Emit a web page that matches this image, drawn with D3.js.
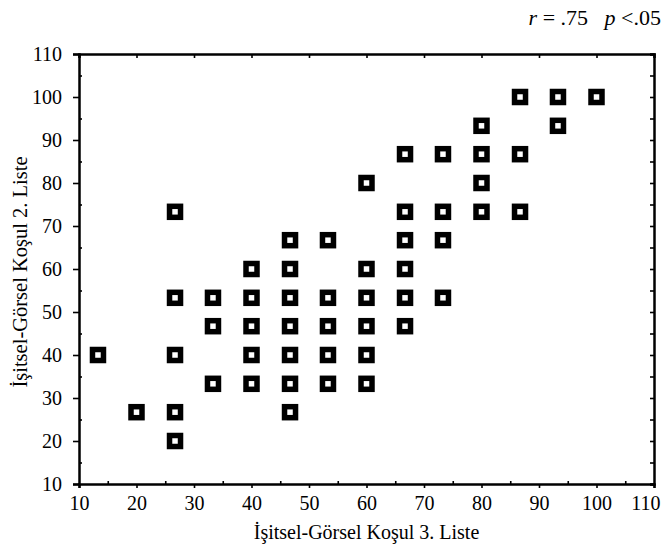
<!DOCTYPE html>
<html><head><meta charset="utf-8">
<script src="https://cdn.jsdelivr.net/npm/d3@7"></script>
<style>body{margin:0;background:#fff}</style>
</head><body>
<svg id="c" width="666" height="550"></svg>
<script>
// Data: İşitsel-Görsel Koşul 3. Liste (x) vs 2. Liste (y)
const xValues = [13.3, 20, 26.7,26.7,26.7,26.7,26.7, 33.3,33.3,33.3, 40,40,40,40,40,
  46.7,46.7,46.7,46.7,46.7,46.7,46.7, 53.3,53.3,53.3,53.3,53.3, 60,60,60,60,60,60,
  66.7,66.7,66.7,66.7,66.7,66.7, 73.3,73.3,73.3,73.3, 80,80,80,80, 86.7,86.7,86.7, 93.3,93.3, 100];
const yValues = [40, 26.7, 73.3,53.3,40,26.7,20, 53.3,46.7,33.3, 60,53.3,46.7,40,33.3,
  66.7,60,53.3,46.7,40,33.3,26.7, 66.7,53.3,46.7,40,33.3, 80,60,53.3,46.7,40,33.3,
  86.7,73.3,66.7,60,53.3,46.7, 86.7,73.3,66.7,53.3, 93.3,86.7,80,73.3, 100,86.7,73.3, 100,93.3, 100];
const tickValues = [10,20,30,40,50,60,70,80,90,100,110];
const minorTicks = [15,25,35,45,55,65,75,85,95,105];
const xTitle = "İşitsel-Görsel Koşul 3. Liste";
const yTitle = "İşitsel-Görsel Koşul 2. Liste";

const svg = d3.select("#c");
const L = 79, R = 654, T = 54, B = 484;
const x = d3.scaleLinear().domain([10,110]).range([L,R]);
const y = d3.scaleLinear().domain([10,110]).range([B,T]);
const font = "Liberation Serif, Times New Roman, serif";

function styleAxis(g){
  g.selectAll("path").attr("stroke","#000").attr("stroke-width",2.5);
  g.selectAll("line").attr("stroke","#000").attr("stroke-width",1.6);
  g.selectAll("text").attr("font-family",font).attr("font-size",20).attr("fill","#000");
}
const gx = svg.append("g").attr("transform",`translate(0,${B})`).call(d3.axisBottom(x).tickValues(tickValues).tickSize(4).tickPadding(8).tickFormat(d3.format("d")));
styleAxis(gx);
gx.selectAll(".tick text").filter(d=>d===110).attr("text-anchor","end").attr("x",6);
const gy = svg.append("g").attr("transform",`translate(${L},0)`).call(d3.axisLeft(y).tickValues(tickValues).tickSize(6).tickPadding(11).tickFormat(d3.format("d")));
styleAxis(gy);
const gt = svg.append("g").attr("transform",`translate(0,${T})`).call(d3.axisTop(x).tickValues(tickValues).tickSize(-4).tickFormat(""));
styleAxis(gt);
const gr = svg.append("g").attr("transform",`translate(${R},0)`).call(d3.axisRight(y).tickValues(tickValues.concat(minorTicks)).tickSize(-4).tickFormat(""));
styleAxis(gr);
const gym = svg.append("g").attr("transform",`translate(${L},0)`).call(d3.axisLeft(y).tickValues(minorTicks).tickSize(-3).tickFormat(""));
styleAxis(gym); gym.select("path").remove();
const gxm = svg.append("g").attr("transform",`translate(0,${B})`).call(d3.axisBottom(x).tickValues(minorTicks).tickSize(-3).tickFormat(""));
styleAxis(gxm); gxm.select("path").remove();

// points
svg.append("g").selectAll("rect").data(xValues.map((v,i)=>[v,yValues[i]])).join("rect")
  .attr("x",d=>x(d[0])-5.5).attr("y",d=>y(d[1])-5.5)
  .attr("width",11).attr("height",11)
  .attr("fill","#fff").attr("stroke","#000").attr("stroke-width",5.5);

// titles
svg.append("text").attr("x",(L+R)/2).attr("y",539).attr("text-anchor","middle")
  .attr("font-family",font).attr("font-size",20).text(xTitle);
svg.append("text").attr("transform",`translate(27,272) rotate(-90)`).attr("text-anchor","middle")
  .attr("font-family",font).attr("font-size",20.5).text(yTitle);

// annotation
const ann = svg.append("text").attr("x",661).attr("y",25).attr("text-anchor","end")
  .attr("font-family",font).attr("font-size",22).style("white-space","pre");
ann.append("tspan").attr("font-style","italic").text("r");
ann.append("tspan").text(" = .75   ");
ann.append("tspan").attr("font-style","italic").text("p");
ann.append("tspan").text(" <.05");
</script>
</body></html>
